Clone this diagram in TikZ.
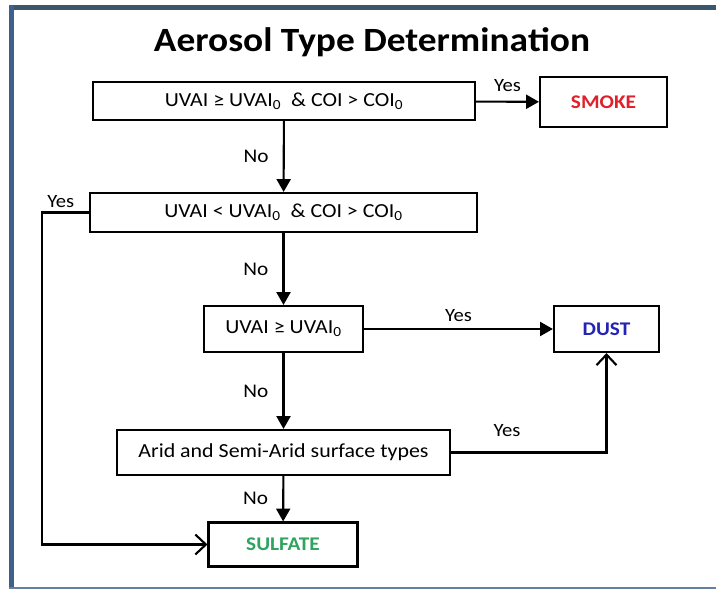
\documentclass[tikz,border=0pt]{standalone}
\usepackage{fontspec}
\setmainfont[FakeStretch=1.1]{Carlito}
\usetikzlibrary{arrows.meta}
\definecolor{sidebar}{HTML}{3F5F8C}
\definecolor{topbar}{HTML}{3C566E}
\definecolor{smokered}{HTML}{E0202A}
\definecolor{dustblue}{HTML}{2424B4}
\definecolor{sulfgreen}{HTML}{2FA460}
\newcommand{\pxl}{0.03cm}

\begin{document}
\begin{tikzpicture}
[x=0.03cm,y=-0.03cm,
  boxDecorate/.style={shape=rectangle,draw,line width=1.8pt,inner sep=0pt,font=\fontsize{17}{19}\selectfont},%
  resultDecorate/.style={boxDecorate,font=\fontsize{16.5}{19}\selectfont\bfseries},%
  lineDecorate/.style={line width=1.8pt,-{Triangle[length=11pt,width=12pt]}},%
  openDecorate/.style={line width=1.8pt,-{Straight Barb[length=9pt,width=17pt]}},%
  yesLabel/.style={above=3.5pt,inner sep=0pt,font=\fontsize{16}{18}\selectfont},%
  noLabel/.style={left=12pt,inner sep=0pt,font=\fontsize{16.5}{18}\selectfont}]
\useasboundingbox (0,0) rectangle (716,590);
%% frame
\fill[white] (0,0) rectangle (716,590);
\fill[topbar] (9,5) rectangle (716,10);
\fill[sidebar] (9,5) rectangle (14,589);
\fill[sidebar!80] (9,587) rectangle (716,589);
%% title
\node (title) at (372,42) {\fontsize{29}{32}\selectfont\bfseries Aerosol Type Determina\kern0pt tion};
%% tests
\node (cond1) at (284,101) [boxDecorate,minimum width=382*\pxl,minimum height=38*\pxl]
  {UVAI ≥ UVAI\textsubscript{0}\ \ \& COI > COI\textsubscript{0}};
\node (cond2) at (283.5,212.5) [boxDecorate,minimum width=387*\pxl,minimum height=39*\pxl]
  {UVAI < UVAI\textsubscript{0}\ \ \& COI > COI\textsubscript{0}};
\node (cond3) at (283.5,329) [boxDecorate,minimum width=159*\pxl,minimum height=46*\pxl]
  {UVAI ≥ UVAI\textsubscript{0}};
\node (cond4) at (283.5,452.5) [boxDecorate,minimum width=333*\pxl,minimum height=45*\pxl]
  {Arid and Semi-Arid surface types};
%% results
\node (smoke) at (603.5,102) [resultDecorate,minimum width=127*\pxl,minimum height=50*\pxl,text=smokered] {SMOKE};
\node (dust) at (606.5,329) [resultDecorate,minimum width=105*\pxl,minimum height=46*\pxl,text=dustblue] {DUST};
\node (sulfate) at (283,544.5) [resultDecorate,minimum width=149*\pxl,minimum height=44*\pxl,text=sulfgreen] {SULFATE};
\coordinate (leftbend) at (42,212.5);
%% edges
\draw[lineDecorate] (cond1) -- node[yesLabel,above=4pt] {Yes} (smoke);
\draw[lineDecorate] (cond1) -- node[noLabel] {No} (cond2);
\draw[lineDecorate] (cond2) -- node[noLabel] {No} (cond3);
\draw[lineDecorate] (cond3) -- node[noLabel] {No} (cond4);
\draw[lineDecorate] (cond4) -- node[noLabel] {No} (sulfate);
\draw[lineDecorate] (cond3) -- node[yesLabel,above=2pt] {Yes} (dust);
\draw[openDecorate] (cond2.west) -- node[yesLabel,pos=0.6] {Yes} (leftbend) |- (sulfate.west);
\draw[openDecorate] (cond4.east) -| node[yesLabel,pos=0.18,above=9pt] {Yes} (dust.south);
\end{tikzpicture}
\end{document}
